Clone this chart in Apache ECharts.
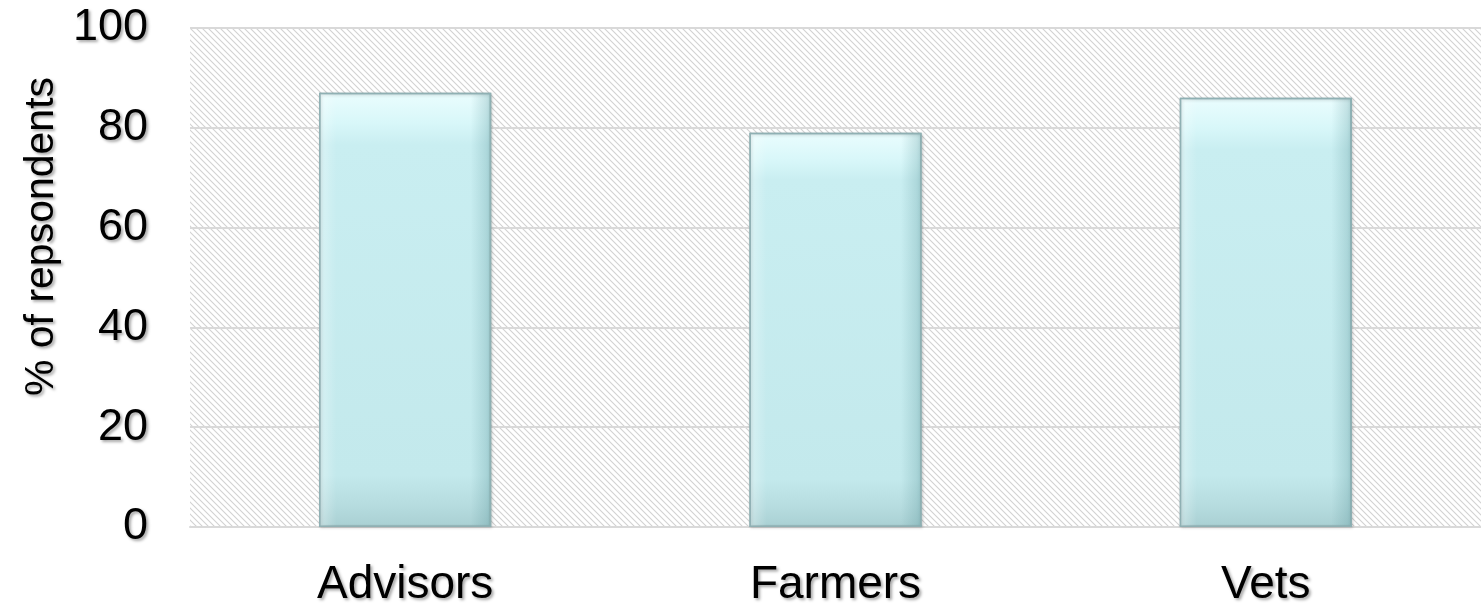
<!DOCTYPE html>
<html><head><meta charset="utf-8">
<script src="https://cdn.jsdelivr.net/npm/echarts@6/dist/echarts.min.js"></script>
<style>html,body{margin:0;padding:0;background:#fff}#c{width:1481px;height:608px}</style>
</head><body><div id="c"></div>
<script>
const categories = ['Advisors', 'Farmers', 'Vets'];
const values = [87, 79, 86];
const yTicks = [0, 20, 40, 60, 80, 100];
const yTitle = '% of repsondents';

// hatch pattern
const pc = document.createElement('canvas');
pc.width = 6; pc.height = 6;
const g = pc.getContext('2d');
g.fillStyle = '#ffffff'; g.fillRect(0,0,6,6);
g.strokeStyle = '#d2d2d2'; g.lineWidth = 1.1;
g.beginPath();
g.moveTo(0,0); g.lineTo(6,6);
g.moveTo(-3,3); g.lineTo(3,9);
g.moveTo(3,-3); g.lineTo(9,3);
g.stroke();

const txt = {color:'#000', fontFamily:'Liberation Sans, Arial, sans-serif', fontSize:44,
  textShadowColor:'rgba(0,0,0,0.35)', textShadowBlur:3, textShadowOffsetX:2, textShadowOffsetY:2};

const chart = echarts.init(document.getElementById('c'), null, {renderer:'canvas'});
chart.setOption({
  animation:false,
  grid:{left:190, right:0, top:28, bottom:77, show:true, borderWidth:0,
    backgroundColor:{image:pc, repeat:'repeat'}},
  xAxis:{type:'category', data:categories,
    axisLine:{show:true, lineStyle:{color:'#d9d9d9', width:2}},
    axisTick:{show:false},
    axisLabel:Object.assign({}, txt, {margin:35, fontSize:46})},
  yAxis:{type:'value', min:yTicks[0], max:yTicks[yTicks.length-1], interval:20,
    name:yTitle, nameLocation:'middle', nameGap:128, nameRotate:90,
    nameTextStyle:Object.assign({}, txt, {fontSize:41, padding:[0,0,0,82]}),
    axisLine:{show:false}, axisTick:{show:false},
    splitLine:{lineStyle:{color:'#d9d9d9', width:2}},
    axisLabel:Object.assign({margin:42}, txt, {fontSize:45})},
  series:[{type:'bar', data:values, barWidth:'40%', z:2,
    itemStyle:{
      color:{type:'linear', x:0, y:0, x2:0, y2:1, colorStops:[
        {offset:0, color:'#eafdfe'},
        {offset:0.07, color:'#d8f7f9'},
        {offset:0.12, color:'#c9eef1'},
        {offset:0.88, color:'#c3e9ec'},
        {offset:0.95, color:'#b6dcdf'},
        {offset:1, color:'#a9d0d3'}]},
      borderColor:'#8fb0b3', borderWidth:1.5,
      shadowColor:'rgba(0,0,0,0.2)', shadowBlur:3, shadowOffsetX:1, shadowOffsetY:1
    }},
    {type:'bar', data:values, barWidth:'40%', barGap:'-100%', z:3, silent:true,
    itemStyle:{
      color:{type:'linear', x:0, y:0, x2:1, y2:0, colorStops:[
        {offset:0, color:'rgba(255,255,255,0.35)'},
        {offset:0.1, color:'rgba(255,255,255,0.0)'},
        {offset:0.88, color:'rgba(80,140,145,0.0)'},
        {offset:0.97, color:'rgba(80,140,145,0.22)'},
        {offset:1, color:'rgba(80,140,145,0.35)'}]},
      borderColor:'#8fb0b3', borderWidth:1.5
    }}]
});
</script></body></html>
